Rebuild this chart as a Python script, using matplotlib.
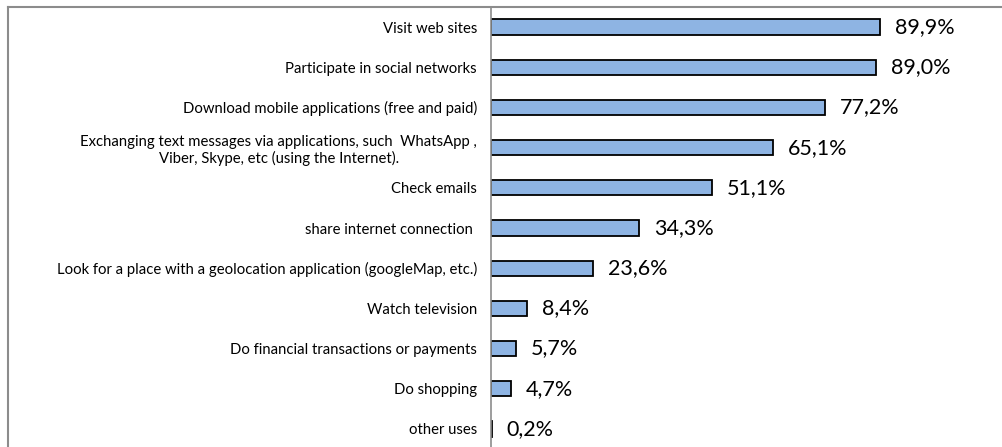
import matplotlib.pyplot as plt
from matplotlib.lines import Line2D

plt.rcParams['font.family'] = ['Lato', 'DejaVu Sans']

# datos
usos = ['Visit web sites',
        'Participate in social networks',
        'Download mobile applications (free and paid)',
        'Exchanging text messages via applications, such  WhatsApp ,\nViber, Skype, etc (using the Internet).',
        'Check emails',
        'share internet connection ',
        'Look for a place with a geolocation application (googleMap, etc.)',
        'Watch television',
        'Do financial transactions or payments',
        'Do shopping',
        'other uses']
porcentajes = [89.9, 89.0, 77.2, 65.1, 51.1, 34.3, 23.6, 8.4, 5.7, 4.7, 0.2]
etiquetas = ['89,9%', '89,0%', '77,2%', '65,1%', '51,1%', '34,3%',
             '23,6%', '8,4%', '5,7%', '4,7%', '0,2%']

W, H = 1003, 447
fig = plt.figure(figsize=(W/100, H/100), dpi=100)
ax = fig.add_axes([491/W, 0, 1 - 491/W, 1 - 7/H])

y = range(len(usos))
ax.barh(y, porcentajes, height=0.38, color='#8EB4E3', edgecolor='black', linewidth=1.3)
ax.set_xlim(0, 118.3)
ax.set_ylim(10.45, -0.5)

for yi, v, t in zip(y, porcentajes, etiquetas):
    ax.text(v + 3.4, yi, t, va='center', ha='left', fontsize=15.5, color='black')

ax.set_yticks(list(y))
ax.set_yticklabels(usos, fontsize=10.7, multialignment='center')
ax.tick_params(axis='y', length=0, pad=10)
ax.set_xticks([])
for s in ['top', 'right', 'bottom']:
    ax.spines[s].set_visible(False)
ax.spines['left'].set_color('#8c8c8c')
ax.spines['left'].set_linewidth(1.2)

# marco del grafico
fig.add_artist(Line2D([8/W, 1], [1 - 7/H, 1 - 7/H], color='#8c8c8c', lw=1.5))
fig.add_artist(Line2D([8/W, 8/W], [0, 1 - 7/H], color='#8c8c8c', lw=1.5))

plt.savefig('out.png', dpi=100)
